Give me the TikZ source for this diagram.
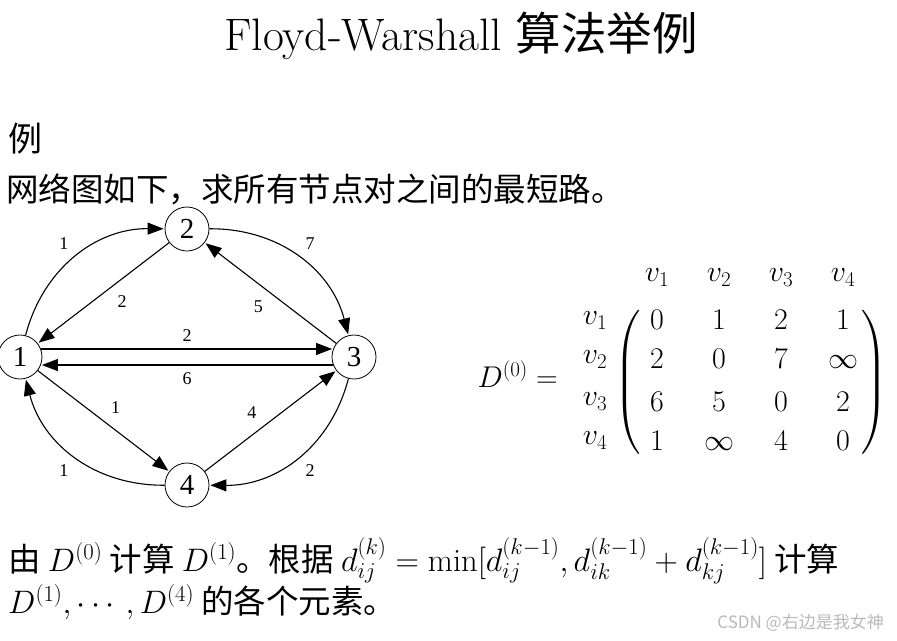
\RequirePackage{fix-cm}
\documentclass[tikz,border=0pt]{standalone}
\usepackage{amsmath}
\usepackage{fontspec}
\newfontfamily\cjk{Noto Sans CJK SC}
\newfontfamily\gvfont{Liberation Serif}
\usetikzlibrary{automata, positioning, arrows.meta, matrix}
\definecolor{markgray}{RGB}{185,185,185}

\begin{document}
\begin{tikzpicture}[x=1pt, y=-1pt, shorten >=1pt, on grid, auto,
    >={Triangle[length=16pt, width=12pt]},
    vtx/.style={state, minimum size=44pt, inner sep=0pt, line width=0.8pt, font=\fontsize{29}{32}\selectfont\gvfont},
    wt/.style={font=\fontsize{18}{20}\selectfont\gvfont, inner sep=7pt},
    body/.style={font=\fontsize{32.5}{36}\selectfont\cjk, inner sep=0pt, anchor=base west},
    mathsz/.style={font=\fontsize{30}{36}\selectfont},
    paren/.style={scale=3, inner sep=0pt}]
    \useasboundingbox (0,0) rectangle (897,640);

    \node[anchor=base, inner sep=0pt, font=\fontsize{45.5}{50}\selectfont] (title) at (461,50) {Floyd-Warshall {\cjk 算法举例}};
    \node[body, font=\fontsize{34}{38}\selectfont\cjk] (hdr) at (8,151) {例};
    \node[body] (task) at (6,201) {网络图如下，求所有节点对之间的最短路。};

    % graph
    \node[vtx] (n1) at (20,357) {1};
    \node[vtx] (n2) [above right=128pt and 167pt of n1] {2};
    \node[vtx] (n3) [right=334pt of n1] {3};
    \node[vtx] (n4) [below right=128pt and 167pt of n1] {4};

    \path[->, line width=1.1pt]
    (n1) edge[bend left=38] node[wt] {1} (n2)
    (n2) edge node[wt, pos=0.45] {2} (n1)
    (n2) edge[bend left=38] node[wt] {7} (n3)
    (n3) edge node[wt] {5} (n2)
    (n1.21) edge node[wt] {2} (n3.159)
    (n3.201) edge node[wt] {6} (n1.339)
    (n1) edge node[wt] {1} (n4)
    (n4) edge node[wt, pos=0.45] {4} (n3)
    (n3) edge[bend left=38] node[wt] {2} (n4)
    (n4) edge[bend left=38] node[wt] {1} (n1);

    % distance matrix
    \matrix (dmat) [matrix of math nodes,
        nodes={mathsz, minimum width=40pt, minimum height=39pt, inner sep=0pt},
        column sep=22pt, row sep=0pt] at (750,382) {
        0 & 1 & 2 & 1 \\
        2 & 0 & 7 & \infty \\
        6 & 5 & 0 & 2 \\
        1 & \infty & 4 & 0 \\
    };
    \node[paren] (lpar) [left=121pt of dmat] {$\left(\vcenter{\hrule height 50pt width 0pt}\right.$};
    \node[paren] (rpar) [right=123pt of dmat] {$\left.\vcenter{\hrule height 50pt width 0pt}\right)$};
    \foreach \i in {1,...,4} {
        \node[mathsz] (row\i) [left=62pt of dmat-\i-1] {$v_\i$};
        \node[mathsz] (col\i) [above=43pt of dmat-1-\i] {$v_\i$};
    }
    \node[mathsz, anchor=base east, inner sep=0pt] (dlab) at (558,387) {$D^{(0)} =$};

    \node[body] (line1) at (8,571) {由 $D^{(0)}$ 计算 $D^{(1)}$。根据 $d_{ij}^{(k)} = \min[d_{ij}^{(k-1)}, d_{ik}^{(k-1)} + d_{kj}^{(k-1)}]$ 计算};
    \node[body] (line2) at (8,613) {$D^{(1)}, \cdots, D^{(4)}$ 的各个元素。};

    \node[anchor=base east, inner sep=0pt, font=\fontsize{17}{20}\selectfont\cjk, text=markgray] (mark) at (884,628) {CSDN @右边是我女神};
\end{tikzpicture}
\end{document}
